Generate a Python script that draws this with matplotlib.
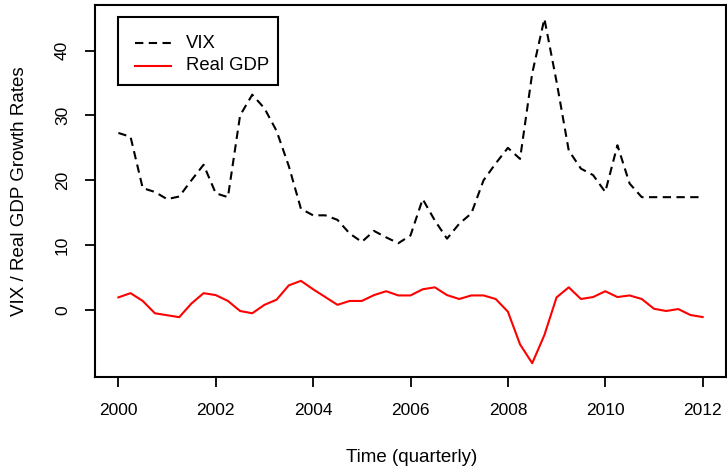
import numpy as np
import matplotlib
matplotlib.use("Agg")
import matplotlib.pyplot as plt
from matplotlib.patches import Rectangle

plt.rcParams['font.family'] = ['Liberation Sans', 'DejaVu Sans']

# quarterly 2000Q1 .. 2012Q1
start_year = 2000
n_quarters = 49
vix = [27.3, 26.7, 18.8, 18.2, 17.1, 17.5, 20.0, 22.4, 18.0, 17.4,
       30.0, 33.2, 31.1, 27.6, 22.2, 15.6, 14.6, 14.6, 13.9, 11.8,
       10.5, 12.2, 11.2, 10.3, 11.5, 17.1, 13.8, 11.0, 13.3, 14.9,
       20.0, 22.6, 25.0, 23.3, 36.5, 44.9, 35.2, 24.6, 21.8, 20.8,
       18.2, 25.4, 19.5, 17.4, 17.4, 17.4, 17.4, 17.4, 17.4]
gdp = [1.95, 2.6, 1.4, -0.5, -0.8, -1.1, 1.0, 2.6, 2.3, 1.4,
       -0.15, -0.5, 0.8, 1.6, 3.8, 4.5, 3.2, 2.0, 0.8, 1.4,
       1.4, 2.3, 2.9, 2.25, 2.25, 3.2, 3.5, 2.3, 1.7, 2.25,
       2.25, 1.7, -0.25, -5.3, -8.2, -3.85, 1.95, 3.5, 1.7, 2.0,
       2.9, 2.0, 2.25, 1.7, 0.2, -0.15, 0.15, -0.77, -1.08]
x_ticks = [2000, 2002, 2004, 2006, 2008, 2010, 2012]
y_ticks = [0, 10, 20, 30, 40]
legend_labels = ["VIX", "Real GDP"]

t = start_year + np.arange(n_quarters) / 4.0

W, H = 727, 475
fig = plt.figure(figsize=(W / 100, H / 100), dpi=100)
L, R, T, B = 95, 726, 5, 377
ax = fig.add_axes([L / W, 1 - B / H, (R - L) / W, (B - T) / H])

DASH = [4, 2.6]
ax.plot(t, vix, color='black', lw=1.5, dashes=DASH)
ax.plot(t, gdp, color='#ff0000', lw=1.5)

# R-style 4% extension
xmin, xmax = t.min(), t.max()
xr = xmax - xmin
ax.set_xlim(xmin - 0.04 * xr, xmax + 0.04 * xr)
allv = np.array(vix + gdp)
ymin, ymax = allv.min(), allv.max()
yr = ymax - ymin
ax.set_ylim(ymin - 0.04 * yr, ymax + 0.04 * yr)

ax.set_xticks(x_ticks)
ax.set_xticklabels([str(v) for v in x_ticks])
ax.set_yticks(y_ticks)
ax.set_yticklabels([str(v) for v in y_ticks], rotation=90, va='center')
ax.tick_params(axis='both', direction='out', length=7, width=1.3,
               labelsize=12.5, colors='black')
ax.tick_params(axis='x', pad=12)
ax.tick_params(axis='y', pad=11)
for s in ax.spines.values():
    s.set_linewidth(1.5)
    s.set_color('black')

fig.text(412 / W, 1 - 458 / H, "Time (quarterly)",
         ha='center', va='center', fontsize=13.5)
fig.text(20 / W, 1 - 191 / H, "VIX / Real GDP Growth Rates",
         ha='center', va='center', rotation=90, fontsize=13.5)

# legend box (R style)
def fx(px):
    return (px - L) / (R - L)

def fy(py):
    return (B - py) / (B - T)

ax.add_patch(Rectangle((fx(118), fy(85)), fx(278) - fx(118), fy(17) - fy(85),
                       transform=ax.transAxes, fill=True, facecolor='white',
                       edgecolor='black', lw=1.5, zorder=5))
ax.plot([fx(135), fx(171)], [fy(43), fy(43)], transform=ax.transAxes,
        color='black', lw=1.5, dashes=DASH, zorder=6)
ax.plot([fx(135), fx(171)], [fy(66), fy(66)], transform=ax.transAxes,
        color='#ff0000', lw=1.5, zorder=6)
ax.text(fx(186), fy(43), legend_labels[0], transform=ax.transAxes,
        ha='left', va='center', fontsize=13.3, zorder=6)
ax.text(fx(186), fy(66), legend_labels[1], transform=ax.transAxes,
        ha='left', va='center', fontsize=13.3, zorder=6)

fig.savefig("out.png", dpi=100)
